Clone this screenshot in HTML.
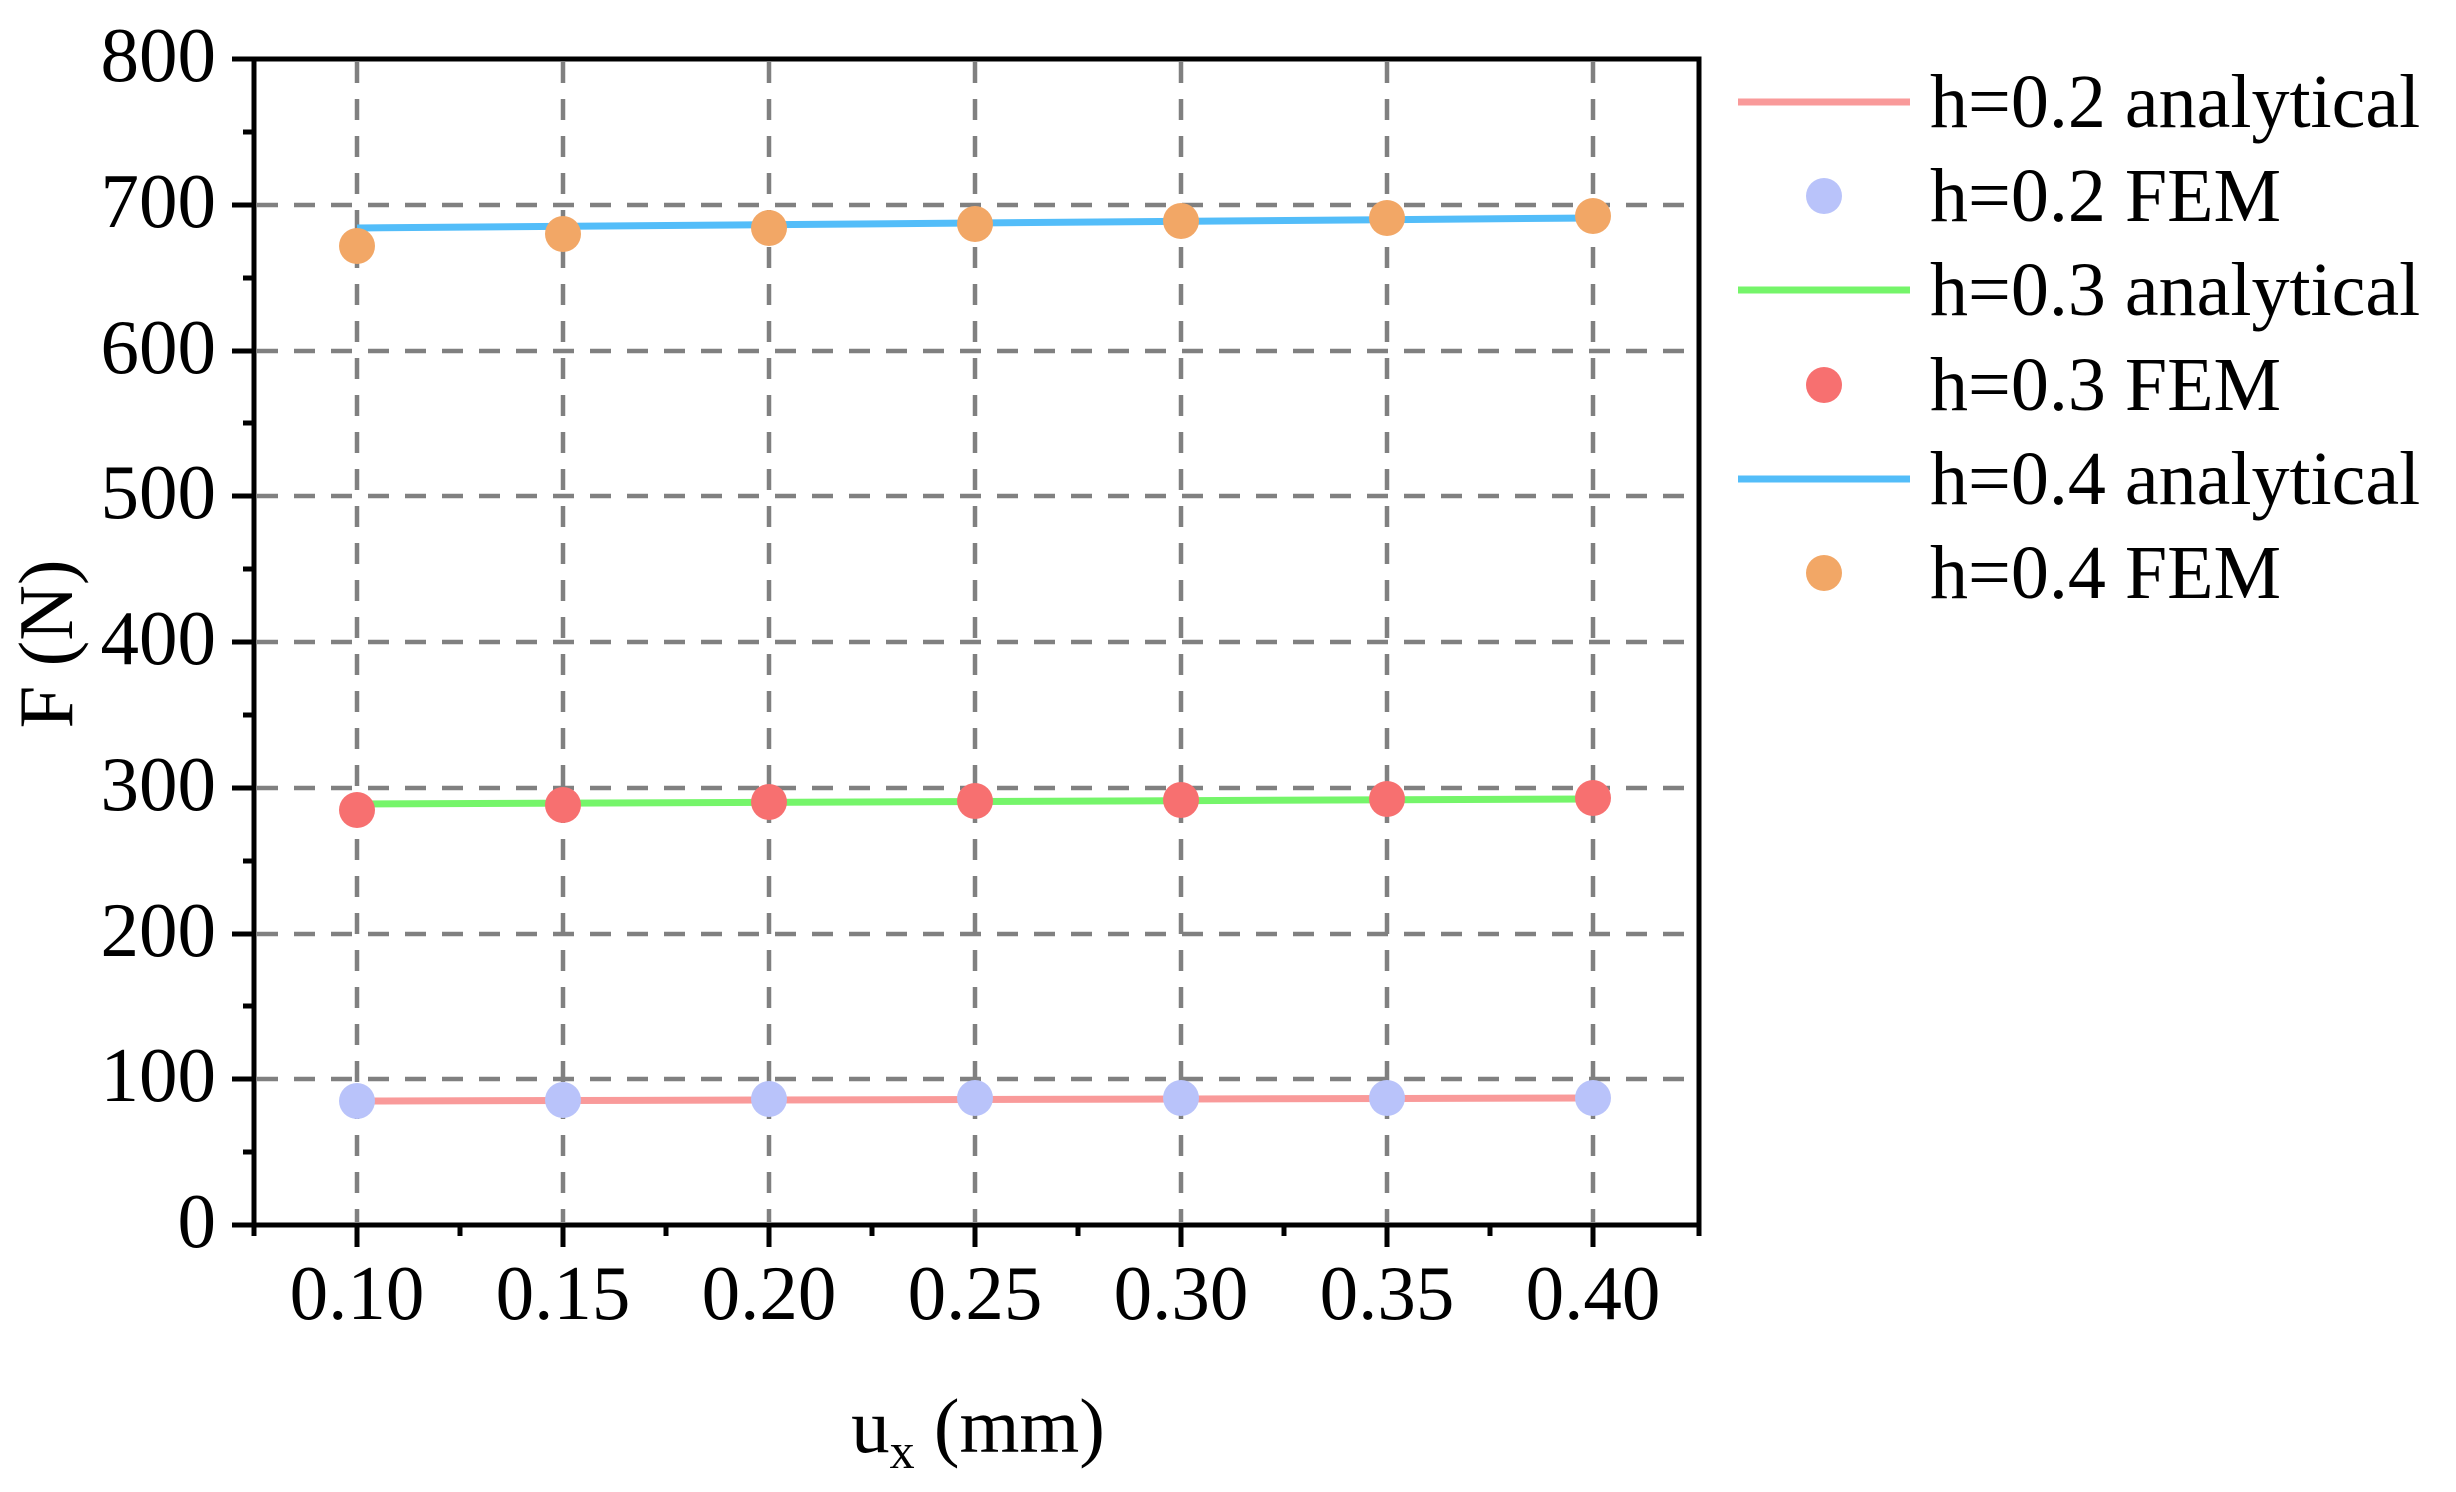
<!DOCTYPE html>
<html><head><meta charset="utf-8"><style>html,body{margin:0;padding:0;background:#fff}svg{display:block}text{font-family:"Liberation Serif",serif;fill:#000}</style></head><body>
<svg width="2456" height="1492" viewBox="0 0 2456 1492" xmlns="http://www.w3.org/2000/svg">
<g stroke="#808080" stroke-width="4.5" stroke-dasharray="21,16">
<line x1="357" y1="62" x2="357" y2="1222"/><line x1="563" y1="62" x2="563" y2="1222"/><line x1="769" y1="62" x2="769" y2="1222"/><line x1="975" y1="62" x2="975" y2="1222"/><line x1="1181" y1="62" x2="1181" y2="1222"/><line x1="1387" y1="62" x2="1387" y2="1222"/><line x1="1593" y1="62" x2="1593" y2="1222"/>
<line x1="257" y1="1079" x2="1697" y2="1079"/><line x1="257" y1="934" x2="1697" y2="934"/><line x1="257" y1="788" x2="1697" y2="788"/><line x1="257" y1="642" x2="1697" y2="642"/><line x1="257" y1="496" x2="1697" y2="496"/><line x1="257" y1="351" x2="1697" y2="351"/><line x1="257" y1="205" x2="1697" y2="205"/>
</g>
<g stroke-width="7" fill="none">
<line x1="357" y1="1101" x2="1593" y2="1098" stroke="#F99A9A"/>
<line x1="357" y1="804" x2="1593" y2="799" stroke="#75F56A"/>
<line x1="357" y1="228" x2="1593" y2="218" stroke="#53BDF9"/>
</g>
<g fill="#B9C3FA">
<circle cx="357" cy="1101" r="18"/><circle cx="563" cy="1100" r="18"/><circle cx="769" cy="1099" r="18"/><circle cx="975" cy="1098" r="18"/><circle cx="1181" cy="1098" r="18"/><circle cx="1387" cy="1098" r="18"/><circle cx="1593" cy="1098" r="18"/>
</g>
<g fill="#F77070">
<circle cx="357" cy="810" r="18"/><circle cx="563" cy="805" r="18"/><circle cx="769" cy="802" r="18"/><circle cx="975" cy="801" r="18"/><circle cx="1181" cy="800" r="18"/><circle cx="1387" cy="799" r="18"/><circle cx="1593" cy="798" r="18"/>
</g>
<g fill="#F2A766">
<circle cx="357" cy="246" r="18"/><circle cx="563" cy="234" r="18"/><circle cx="769" cy="228" r="18"/><circle cx="975" cy="224" r="18"/><circle cx="1181" cy="221" r="18"/><circle cx="1387" cy="218" r="18"/><circle cx="1593" cy="216" r="18"/>
</g>
<rect x="254" y="59" width="1445" height="1166" fill="none" stroke="#000" stroke-width="5"/>
<g stroke="#000" stroke-width="5">
<line x1="357" y1="1225" x2="357" y2="1247"/><line x1="563" y1="1225" x2="563" y2="1247"/><line x1="769" y1="1225" x2="769" y2="1247"/><line x1="975" y1="1225" x2="975" y2="1247"/><line x1="1181" y1="1225" x2="1181" y2="1247"/><line x1="1387" y1="1225" x2="1387" y2="1247"/><line x1="1593" y1="1225" x2="1593" y2="1247"/>
<line x1="254" y1="1225" x2="254" y2="1236"/><line x1="460" y1="1225" x2="460" y2="1236"/><line x1="666" y1="1225" x2="666" y2="1236"/><line x1="872" y1="1225" x2="872" y2="1236"/><line x1="1078" y1="1225" x2="1078" y2="1236"/><line x1="1284" y1="1225" x2="1284" y2="1236"/><line x1="1490" y1="1225" x2="1490" y2="1236"/><line x1="1699" y1="1225" x2="1699" y2="1236"/>
<line x1="232" y1="1225" x2="254" y2="1225"/><line x1="232" y1="1079" x2="254" y2="1079"/><line x1="232" y1="934" x2="254" y2="934"/><line x1="232" y1="788" x2="254" y2="788"/><line x1="232" y1="642" x2="254" y2="642"/><line x1="232" y1="496" x2="254" y2="496"/><line x1="232" y1="351" x2="254" y2="351"/><line x1="232" y1="205" x2="254" y2="205"/><line x1="232" y1="59" x2="254" y2="59"/>
<line x1="243" y1="1152" x2="254" y2="1152"/><line x1="243" y1="1006" x2="254" y2="1006"/><line x1="243" y1="861" x2="254" y2="861"/><line x1="243" y1="715" x2="254" y2="715"/><line x1="243" y1="569" x2="254" y2="569"/><line x1="243" y1="423" x2="254" y2="423"/><line x1="243" y1="278" x2="254" y2="278"/><line x1="243" y1="132" x2="254" y2="132"/>
</g>
<g font-size="77" text-anchor="end">
<text x="216" y="1247">0</text><text x="216" y="1101">100</text><text x="216" y="956">200</text><text x="216" y="810">300</text><text x="216" y="664">400</text><text x="216" y="518">500</text><text x="216" y="373">600</text><text x="216" y="227">700</text><text x="216" y="81">800</text>
</g>
<g font-size="77" text-anchor="middle">
<text x="357" y="1319">0.10</text><text x="563" y="1319">0.15</text><text x="769" y="1319">0.20</text><text x="975" y="1319">0.25</text><text x="1181" y="1319">0.30</text><text x="1387" y="1319">0.35</text><text x="1593" y="1319">0.40</text>
</g>
<text x="978" y="1452" font-size="77" text-anchor="middle">u<tspan font-size="50" dy="16">x</tspan><tspan dy="-16"> (mm)</tspan></text>
<text transform="translate(72,644) rotate(-90)" font-size="77" text-anchor="middle">F (N)</text>
<g stroke-width="7">
<line x1="1738" y1="102" x2="1910" y2="102" stroke="#F99A9A"/>
<line x1="1738" y1="290" x2="1910" y2="290" stroke="#75F56A"/>
<line x1="1738" y1="479" x2="1910" y2="479" stroke="#53BDF9"/>
</g>
<circle cx="1824" cy="196" r="18" fill="#B9C3FA"/>
<circle cx="1824" cy="385" r="18" fill="#F77070"/>
<circle cx="1824" cy="573" r="18" fill="#F2A766"/>
<g font-size="76">
<text x="1930" y="127">h=0.2 analytical</text>
<text x="1930" y="221">h=0.2 FEM</text>
<text x="1930" y="315">h=0.3 analytical</text>
<text x="1930" y="410">h=0.3 FEM</text>
<text x="1930" y="504">h=0.4 analytical</text>
<text x="1930" y="598">h=0.4 FEM</text>
</g>
</svg>
</body></html>
